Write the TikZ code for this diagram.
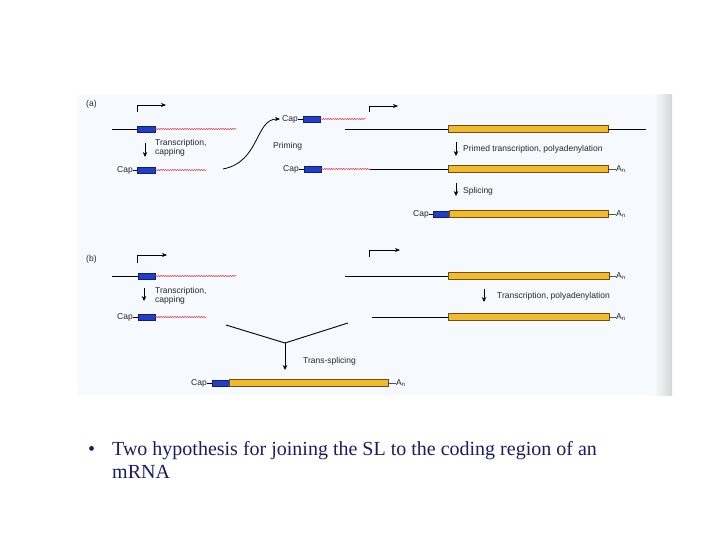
\documentclass[tikz,border=0pt]{standalone}
\usepackage{fontspec}
\setmainfont{Liberation Serif}
\setsansfont{Liberation Sans}
\usetikzlibrary{positioning,arrows.meta,calc,decorations.pathmorphing}
\definecolor{figbg}{RGB}{246,249,253}
\definecolor{slblue}{RGB}{32,62,200}
\definecolor{sldark}{RGB}{20,30,110}
\definecolor{exyellow}{RGB}{242,187,45}
\definecolor{exdark}{RGB}{110,80,20}
\definecolor{rnared}{RGB}{225,55,75}
\definecolor{slidetext}{RGB}{28,28,96}

\begin{document}
\begin{tikzpicture}[x=1pt, y=-1pt,
            lbl/.style={font=\sffamily\fontsize{8.5}{9.5}\selectfont, inner sep=0pt, anchor=west, align=left, text=black!85},
            sl/.style={rectangle, draw=sldark, fill=slblue, line width=0.5pt, minimum height=6pt, inner sep=0pt},
            exon/.style={rectangle, draw=exdark, fill=exyellow, line width=0.5pt, minimum height=7pt, inner sep=0pt},
            dna/.style={line width=0.9pt},
            rna/.style={rnared, line width=0.5pt, decorate, decoration={snake, amplitude=0.6pt, segment length=2.4pt}},
            tick/.style={line width=0.5pt},
            arrow/.style={-{Stealth[length=5pt, width=4.5pt]}, line width=1pt},
            prom/.style={-{Stealth[length=5pt, width=4pt]}, line width=0.8pt},
            slide/.style={font=\fontsize{20}{24}\selectfont, text=slidetext, inner sep=0pt, anchor=base west}
        ]
            \useasboundingbox (0,0) rectangle (720,540);
            \fill[figbg] (78,95) rectangle (672,395);
            \shade[left color=figbg, right color=black!16] (655,95) rectangle (672,395);

            \node[lbl] (la) at (86,104) {(a)};
            \coordinate (pa) at (137,112);
            \draw[prom] (pa) |- ++(29,-7);
            \coordinate (a1l) at (112,129);
            \node[sl, minimum width=18pt] (a1s) at (146,129) {};
            \coordinate (a1r) at (236,129);
            \draw[dna] (a1l) -- (a1s);
            \draw[rna] (a1s) -- (a1r);
            \coordinate (a1d) at (145,143);
            \draw[arrow] (a1d) -- ++(0,14);
            \node[lbl] (ta1) at (155,148) {Transcription,\\capping};
            \node[lbl, anchor=east] (a2c) at (133,170) {Cap};
            \node[sl, minimum width=18pt] (a2s) at (146,170) {};
            \coordinate (a2r) at (206,170);
            \draw[tick] (a2c) -- (a2s);
            \draw[rna] (a2s) -- (a2r);

            \node[lbl] (m1c) at (282,119) {Cap};
            \node[sl, minimum width=17pt] (m1s) at (311.5,119) {};
            \coordinate (m1r) at (366,119);
            \draw[tick] (m1c) -- (m1s);
            \draw[rna] (m1s) -- (m1r);
            \coordinate (cv) at (223,169);
            \draw[prom, shorten >=2pt] (cv) .. controls (260,162) and (255,119) .. (m1c);
            \node[lbl] (tpr) at (273,146) {Priming};
            \node[lbl] (m2c) at (283,169) {Cap};
            \node[sl, minimum width=17pt] (m2s) at (312.5,169) {};
            \coordinate (m2j) at (370,169);
            \node[exon, minimum width=160pt] (m2e) at (528,169) {};
            \node[lbl] (m2a) at (616,169.5) {A\textsubscript{n}};
            \draw[tick] (m2c) -- (m2s);
            \draw[rna] (m2s) -- (m2j);
            \draw[dna] (m2j) -- (m2e);
            \draw[tick] (m2e) -- (m2a);

            \coordinate (pb) at (369,112);
            \draw[prom] (pb) |- ++(29,-6);
            \coordinate (r1l) at (345,129);
            \node[exon, minimum width=160pt] (r1e) at (528,129) {};
            \coordinate (r1r) at (646,129);
            \draw[dna] (r1l) -- (r1e);
            \draw[dna] (r1e) -- (r1r);
            \coordinate (r1d) at (456,142);
            \draw[arrow] (r1d) -- ++(0,14);
            \node[lbl] (tpt) at (463,149) {Primed transcription, polyadenylation};
            \coordinate (r2d) at (456,183);
            \draw[arrow] (r2d) -- ++(0,13);
            \node[lbl] (tsp) at (463,191) {Splicing};
            \node[lbl, anchor=east] (r3c) at (429,214) {Cap};
            \node[sl, minimum width=16pt] (r3s) at (441,214) {};
            \node[exon, minimum width=159pt] (r3e) at (528.5,214) {};
            \node[lbl] (r3a) at (616,214.5) {A\textsubscript{n}};
            \draw[tick] (r3c) -- (r3s);
            \draw[tick] (r3e) -- (r3a);

            \node[lbl] (lb) at (86,259) {(b)};
            \coordinate (pc) at (137,263);
            \draw[prom] (pc) |- ++(30,-8);
            \coordinate (b1l) at (112,276);
            \node[sl, minimum width=17pt] (b1s) at (146.5,276) {};
            \coordinate (b1r) at (236,276);
            \draw[dna] (b1l) -- (b1s);
            \draw[rna] (b1s) -- (b1r);
            \coordinate (b1d) at (144,288);
            \draw[arrow] (b1d) -- ++(0,13);
            \node[lbl] (tb1) at (155,296) {Transcription,\\capping};
            \node[lbl, anchor=east] (b2c) at (133,317) {Cap};
            \node[sl, minimum width=17pt] (b2s) at (146.5,317) {};
            \coordinate (b2r) at (206,317);
            \draw[tick] (b2c) -- (b2s);
            \draw[rna] (b2s) -- (b2r);

            \coordinate (pd) at (369,257);
            \draw[prom] (pd) |- ++(31,-7);
            \coordinate (c1l) at (345,276);
            \node[exon, minimum width=161pt] (c1e) at (528.5,276) {};
            \node[lbl] (c1a) at (616,276.5) {A\textsubscript{n}};
            \draw[dna] (c1l) -- (c1e);
            \draw[tick] (c1e) -- (c1a);
            \coordinate (c1d) at (484,289);
            \draw[arrow] (c1d) -- ++(0,13);
            \node[lbl] (tc1) at (497,296) {Transcription, polyadenylation};
            \coordinate (c2l) at (372,317);
            \node[exon, minimum width=161pt] (c2e) at (528.5,317) {};
            \node[lbl] (c2a) at (616,317.5) {A\textsubscript{n}};
            \draw[dna] (c2l) -- (c2e);
            \draw[tick] (c2e) -- (c2a);

            \coordinate (yl) at (226,325);
            \coordinate (yv) at (285,343);
            \coordinate (yr) at (348,323);
            \draw[dna] (yl) -- (yv) -- (yr);
            \draw[arrow] (yv) -- ++(0,27);
            \node[lbl] (tts) at (303,361) {Trans-splicing};
            \node[lbl, anchor=east] (d1c) at (207,383) {Cap};
            \node[sl, minimum width=17pt] (d1s) at (220.5,383) {};
            \node[exon, minimum width=159pt] (d1e) at (308.5,383) {};
            \node[lbl] (d1a) at (396,383.5) {A\textsubscript{n}};
            \draw[tick] (d1c) -- (d1s);
            \draw[tick] (d1e) -- (d1a);

            \node[slide] (bul) at (88,455) {•};
            \node[slide] (txt1) at (112,455) {Two hypothesis for joining the SL to the coding region of an};
            \node[slide] (txt2) at (112,478) {mRNA};
        \end{tikzpicture}
\end{document}
